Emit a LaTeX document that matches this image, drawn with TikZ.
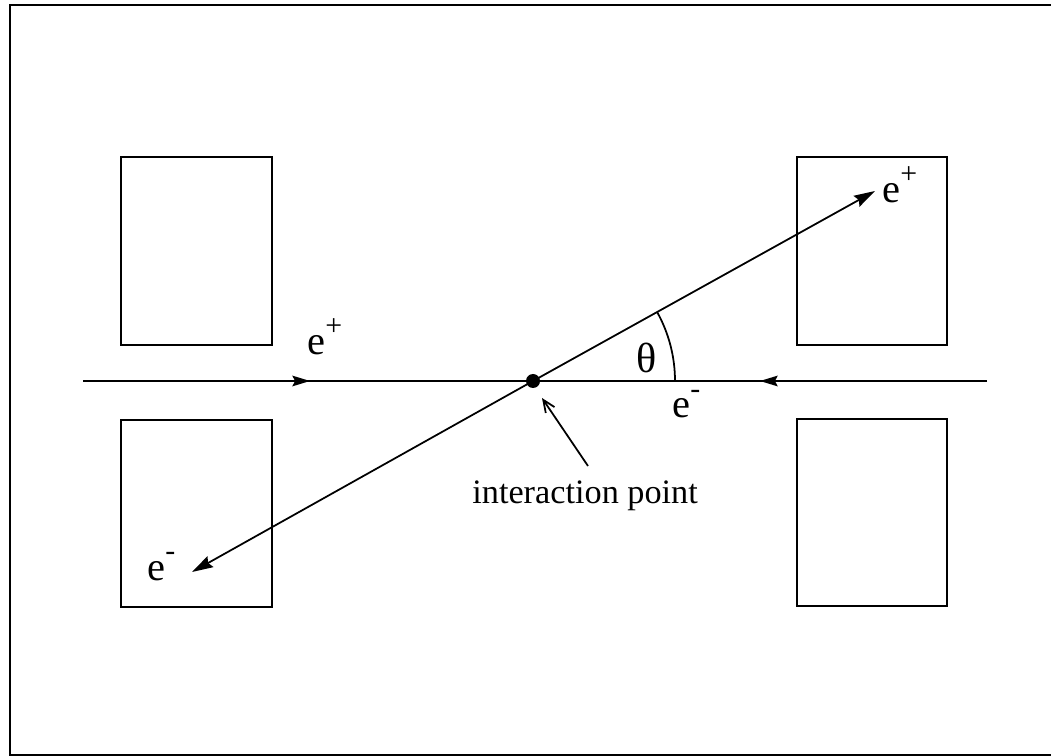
\documentclass[tikz,border=0pt]{standalone}
\usepackage{fontspec}
\setmainfont{Liberation Serif}
\usetikzlibrary{arrows.meta}

\newcommand{\charge}[1]{\raisebox{0.48em}{\fontsize{17}{19}\selectfont #1}}

\begin{document}
\begin{tikzpicture}[x=0.02cm, y=-0.02cm,
    magnet/.style={line width=1.6pt},
    beam/.style={line width=1pt},
    tipin/.style={-{Stealth[length=10pt, width=6pt, inset=1.5pt]}},
    tipout/.style={-{Stealth[length=12pt, width=7pt, inset=1.5pt]}},
    lbl/.style={font=\fontsize{23}{27}\selectfont, inner sep=0pt, anchor=base west},
    ipnote/.style={font=\fontsize{19.5}{23}\selectfont, inner sep=0pt, anchor=base west}]
    \useasboundingbox (0,0) rectangle (1051,756);

    % Frame
    \draw[line width=1pt] (1051,5) -- (10,5) -- (10,755) -- (1051,755);

    % Magnets
    \draw[magnet] (121,157) rectangle (272,345);
    \draw[magnet] (121,420) rectangle (272,607);
    \draw[magnet] (797,157) rectangle (947,345);
    \draw[magnet] (797,419) rectangle (947,606);

    % Points
    \coordinate (IP) at (533,381);
    \coordinate (beamL) at (83,381);
    \coordinate (beamR) at (987,381);
    \coordinate (inL) at (310,381);
    \coordinate (inR) at (760,381);
    \coordinate (outP) at (875,191);
    \coordinate (outM) at (192,572);
    \coordinate (arc0) at (675,381);

    % Beams
    \draw[beam] (beamL) -- (beamR);
    \draw[beam, tipin] (beamL) -- (inL);
    \draw[beam, tipin] (beamR) -- (inR);

    % Outgoing pair
    \draw[beam, tipout] (IP) -- (outP);
    \draw[beam, tipout] (IP) -- (outM);
    \fill (IP) circle (7);

    % Angle
    \draw[beam] (arc0) arc[start angle=0, end angle=-29.05, radius=142];

    % Labels
    \node[lbl] (ePin) at (307,355) {e\charge{+}};
    \node[lbl] (eMin) at (672,418) {e\charge{-}};
    \node[lbl] (ePout) at (882,203) {e\charge{+}};
    \node[lbl] (eMout) at (147,580) {e\charge{-}};
    \node[lbl, font=\fontsize{24}{28}\selectfont] (theta) at (636,373) {θ};

    % Interaction point
    \node[ipnote] (ipText) at (472,503) {interaction point};
    \coordinate (ipTail) at (588,466);
    \draw[beam, -{Straight Barb[length=7pt, width=6pt]}] (ipTail) -- (542,398);
\end{tikzpicture}
\end{document}
